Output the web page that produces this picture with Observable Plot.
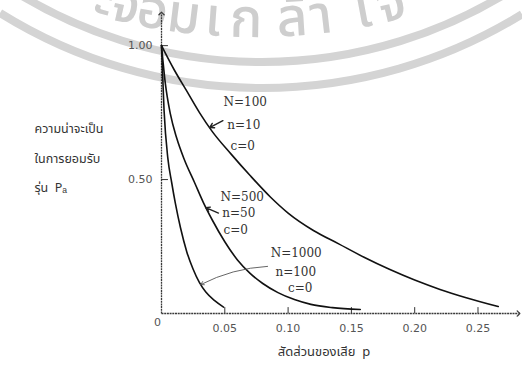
<!DOCTYPE html>
<html><head><meta charset="utf-8">
<script src="https://cdn.jsdelivr.net/npm/d3@7"></script>
<script src="https://cdn.jsdelivr.net/npm/@observablehq/plot@0.6"></script>
<style>
body{margin:0;background:#fff}
#chart{width:522px;height:376px;position:relative;overflow:hidden}
</style>
</head><body><div id="chart"></div>
<script>
// OC curves (p = fraction defective, Pa = probability of acceptance)
const pN100  = [0, 0.01, 0.02, 0.03, 0.04, 0.055, 0.07, 0.086, 0.10, 0.12, 0.14, 0.16, 0.18, 0.20, 0.22, 0.24, 0.266];
const paN100 = [1.00, 0.91, 0.83, 0.75, 0.68, 0.595, 0.515, 0.435, 0.375, 0.31, 0.26, 0.21, 0.165, 0.125, 0.09, 0.06, 0.026];
const pN500  = [0, 0.003, 0.007, 0.012, 0.018, 0.026, 0.033, 0.04, 0.05, 0.06, 0.07, 0.08, 0.092, 0.105, 0.118, 0.135, 0.157];
const paN500 = [1.00, 0.86, 0.745, 0.655, 0.575, 0.49, 0.415, 0.35, 0.268, 0.20, 0.15, 0.112, 0.078, 0.052, 0.034, 0.022, 0.015];
const pN1000  = [0, 0.002, 0.005, 0.008, 0.011, 0.015, 0.02, 0.025, 0.03, 0.035, 0.042, 0.049];
const paN1000 = [1.00, 0.76, 0.58, 0.49, 0.41, 0.32, 0.23, 0.165, 0.115, 0.08, 0.048, 0.024];

const seriesNames = ["N=100", "N=500", "N=1000"];
const xTicks = [0.05, 0.10, 0.15, 0.20, 0.25];
const yTicks = [0.50, 1.00];
const yLabelLines = ["ความน่าจะเป็น", "ในการยอมรับ", "รุ่น  Pₐ"];
const xLabel = "สัดส่วนของเสีย  p";
const label100 = ["N=100", "n=10", "c=0"];
const label500 = ["N=500", "n=50", "c=0"];
const label1000 = ["N=1000", "n=100", "c=0"];
const watermarkGlyphs = ["ะ", "จ", "อ", "ม", "เ", "ก", "ล้", "า", "เ", "จ"];

const rows = [];
[[pN100, paN100], [pN500, paN500], [pN1000, paN1000]].forEach(([ps, pas], i) => {
  ps.forEach((p, j) => rows.push({p, pa: pas[j], s: seriesNames[i]}));
});

const thai = "'Noto Sans Thai','Loma','Garuda','Norasi','Tlwg Typo',sans-serif";
const serif = "'DejaVu Serif',serif";

const lbl = (lines, xs, ys) => lines.map((t, i) => ({t, x: xs[i], y: ys[i]}));

const plot = Plot.plot({
  width: 522, height: 376,
  marginLeft: 161, marginRight: 4, marginTop: 13, marginBottom: 63,
  x: {domain: [0, 0.282]},
  y: {domain: [0, 1.12]},
  style: {fontFamily: "'DejaVu Sans',sans-serif", background: "transparent"},
  marks: [
    // axes with arrows
    Plot.link([0], {x1: 0, y1: 0, x2: 0, y2: 1.12, stroke: "#3a3a3a", strokeWidth: 1.3, strokeDasharray: "2,0.7", markerEnd: "arrow"}),
    Plot.link([0], {x1: 0, y1: 0, x2: 0.282, y2: 0, stroke: "#3a3a3a", strokeWidth: 1.3, strokeDasharray: "2,0.7", markerEnd: "arrow"}),
    Plot.ruleX(xTicks, {y1: 0, y2: 0.022, stroke: "#333", strokeWidth: 1}),
    Plot.ruleY(yTicks, {x1: 0, x2: 0.0055, stroke: "#333", strokeWidth: 1}),
    Plot.axisX(xTicks, {tickSize: 0, tickPadding: 11, tickFormat: ".2f", fontSize: 11, fill: "#555", label: null}),
    Plot.axisY(yTicks, {anchor: "left", tickSize: 0, tickPadding: 9, tickFormat: ".2f", fontSize: 11, fill: "#555", label: null}),
    Plot.text(["0"], {x: 0, y: 0, dx: -4, dy: 9, fontSize: 11, fill: "#555"}),
    // curves
    Plot.line(rows, {x: "p", y: "pa", z: "s", curve: "monotone-x", stroke: "#111", strokeWidth: 1.6}),
    // annotations
    Plot.text(lbl(label100, [0.049, 0.052, 0.0545], [0.79, 0.704, 0.625]), {x: "x", y: "y", text: "t", textAnchor: "start", fontFamily: serif, fontSize: 12, fill: "#333"}),
    Plot.text(lbl(label500, [0.0466, 0.048, 0.049], [0.434, 0.375, 0.311]), {x: "x", y: "y", text: "t", textAnchor: "start", fontFamily: serif, fontSize: 12, fill: "#333"}),
    Plot.text(lbl(label1000, [0.0862, 0.090, 0.100], [0.225, 0.154, 0.094]), {x: "x", y: "y", text: "t", textAnchor: "start", fontFamily: serif, fontSize: 12, fill: "#333"}),
    Plot.arrow([0], {x1: 0.0485, y1: 0.72, x2: 0.038, y2: 0.694, stroke: "#222", strokeWidth: 1.4, headLength: 6}),
    Plot.arrow([0], {x1: 0.045, y1: 0.375, x2: 0.035, y2: 0.395, stroke: "#222", strokeWidth: 1.4, headLength: 6}),
    Plot.arrow([0], {x1: 0.0838, y1: 0.176, x2: 0.031, y2: 0.108, bend: -12, stroke: "#555", strokeWidth: 0.9, headLength: 6}),
    // axis titles
    ...yLabelLines.map((t, i) => Plot.text([t], {frameAnchor: "top-left", dx: -127, dy: 111 + i * 29.5, textAnchor: "start", fontFamily: thai, fontSize: 12.5, fill: "#333"})),
    Plot.text([xLabel], {frameAnchor: "bottom", dx: -16, dy: 42, fontFamily: thai, fontSize: 13, fill: "#333"})
  ]
});

// faint watermark behind the chart
const svg = d3.select(plot);
const g = svg.insert("g", ":first-child").attr("pointer-events", "none");
const arc = (cx, cy, r) => {
  const a = Math.sqrt(Math.max(0, r * r - cx * cx));
  const b = Math.sqrt(Math.max(0, r * r - (522 - cx) * (522 - cx)));
  return `M0,${cy + a} A${r},${r} 0 0 0 522,${cy + b}`;
};
g.append("path").attr("d", arc(262, -407, 469)).attr("fill", "none").attr("stroke", "#d4d4d4").attr("stroke-width", 8);
g.append("path").attr("d", arc(262, -407, 495)).attr("fill", "none").attr("stroke", "#d4d4d4").attr("stroke-width", 8);
const wcx = 255, wcy = -563, wr = 600;
const glyphX = [100, 122, 150, 182, 212, 246, 293, 323, 366, 395];
g.selectAll("text.wm").data(watermarkGlyphs).join("text").attr("class", "wm")
  .attr("font-family", thai).attr("font-size", 54).attr("font-weight", 500).attr("fill", "#cecece").attr("text-anchor", "middle")
  .attr("transform", (d, i) => {
    const x = glyphX[i], dx = x - wcx;
    const y = wcy + Math.sqrt(wr * wr - dx * dx);
    const ang = -Math.asin(dx / wr) * 180 / Math.PI;
    return `translate(${x},${y}) rotate(${ang})`;
  })
  .text(d => d);

document.getElementById("chart").appendChild(plot);
</script>
</body></html>
